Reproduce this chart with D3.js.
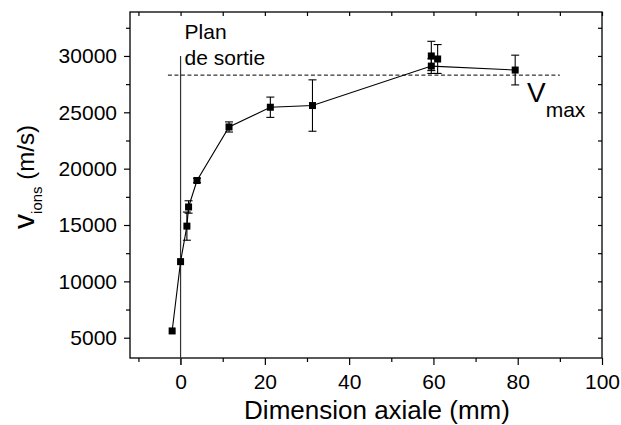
<!DOCTYPE html>
<html>
<head>
<meta charset="utf-8">
<script src="https://d3js.org/d3.v7.min.js"></script>
<style>
    body { margin: 0; background: #fff; }
    text { font-family: "Liberation Sans", Arial, sans-serif; fill: #000; }
</style>
</head>
<body>
<div id="graph"></div>
<script>
const WIDTH = 621, HEIGHT = 425;
const margin = {top: 12, right: 19, bottom: 67, left: 130};

// Measured points (axial position in mm, ion velocity in m/s, error bar half-width)
let pos_mm = [-2.0, 0, 1.5, 1.9, 3.9, 11.5, 21.3, 31.3, 59.5, 59.5, 61.0, 79.4];
let v_ions = [5600, 11750, 14900, 16600, 18950, 23700, 25450, 25600, 30000, 29100, 29730, 28750];
let v_err = [0, 0, 1250, 550, 200, 450, 900, 2280, 1300, 650, 1280, 1320];
// which points the connecting line goes through
let on_line = [1, 1, 1, 1, 1, 1, 1, 1, 0, 1, 0, 1];

let x_ticks = [0, 20, 40, 60, 80, 100];
let x_minor = [-10, 10, 30, 50, 70, 90];
let y_ticks = [5000, 10000, 15000, 20000, 25000, 30000];
let y_minor = [7500, 12500, 17500, 22500, 27500, 32500];

let v_max = 28300;
let v_max_span = [-3, 90];
let exit_plane = 0;
let exit_plane_top = 30000;

let plot_w = WIDTH - margin.left - margin.right;
let plot_h = HEIGHT - margin.top - margin.bottom;

let svg = d3.select("#graph")
    .append("svg")
    .attr("width", WIDTH)
    .attr("height", HEIGHT)
    .append("g")
    .attr("transform", `translate(${margin.left}, ${margin.top})`);

let x = d3.scaleLinear().domain([-12, 100]).range([0, plot_w]);
let y = d3.scaleLinear().domain([3200, 33900]).range([plot_h, 0]);

function styleAxis(g) {
    g.select(".domain").remove();
    g.selectAll("line").attr("stroke", "#000").attr("stroke-width", 1.2);
    g.selectAll("text").style("font-size", "21px").attr("fill", "#000");
}

// bottom axis: labelled majors, short minors
svg.append("g")
    .attr("transform", `translate(0, ${plot_h})`)
    .call(d3.axisBottom(x).tickValues(x_ticks).tickSize(7).tickPadding(9))
    .call(styleAxis);
svg.append("g")
    .attr("transform", `translate(0, ${plot_h})`)
    .call(d3.axisBottom(x).tickValues(x_minor).tickSize(4).tickFormat(""))
    .call(styleAxis);

// left axis
svg.append("g")
    .call(d3.axisLeft(y).tickValues(y_ticks).tickSize(6).tickPadding(7).tickFormat(d3.format("d")))
    .call(styleAxis);
svg.append("g")
    .call(d3.axisLeft(y).tickValues(y_minor).tickSize(4).tickFormat(""))
    .call(styleAxis);

// top and right mirror axes, ticks pointing inward
svg.append("g")
    .call(d3.axisTop(x).tickValues(x_minor.concat(x_ticks)).tickSize(-4).tickFormat(""))
    .call(styleAxis);
svg.append("g")
    .attr("transform", `translate(${plot_w}, 0)`)
    .call(d3.axisRight(y).tickValues(y_minor.concat(y_ticks)).tickSize(-4).tickFormat(""))
    .call(styleAxis);

// frame
svg.append("rect")
    .attr("x", 0).attr("y", 0)
    .attr("width", plot_w).attr("height", plot_h)
    .attr("fill", "none")
    .attr("stroke", "#000")
    .attr("stroke-width", 1.3);

// exit plane marker
svg.append("line")
    .attr("x1", x(exit_plane)).attr("x2", x(exit_plane))
    .attr("y1", y(exit_plane_top)).attr("y2", plot_h + 7)
    .attr("stroke", "#333")
    .attr("stroke-width", 1.2);

svg.append("text")
    .attr("x", x(exit_plane) + 4)
    .attr("y", 39 - margin.top)
    .style("font-size", "21px")
    .text("Plan");
svg.append("text")
    .attr("x", x(exit_plane) + 4)
    .attr("y", 65 - margin.top)
    .style("font-size", "21px")
    .text("de sortie");

// vmax dashed line
svg.append("line")
    .attr("x1", x(v_max_span[0])).attr("x2", x(v_max_span[1]))
    .attr("y1", y(v_max)).attr("y2", y(v_max))
    .attr("stroke", "#000")
    .attr("stroke-width", 1)
    .attr("stroke-dasharray", "4,2.5");

let vmax_label = svg.append("text")
    .attr("x", 527 - margin.left)
    .attr("y", 102 - margin.top);
vmax_label.append("tspan").style("font-size", "28px").text("V");
vmax_label.append("tspan").style("font-size", "21px").attr("dy", 15).attr("dx", 0).text("max");

let data = pos_mm.map(function(d, i) {
    return {x: d, v: v_ions[i], err: v_err[i], line: on_line[i]};
});

// connecting line
let line = d3.line()
    .x(function(d) { return x(d.x); })
    .y(function(d) { return y(d.v); });
svg.append("path")
    .datum(data.filter(function(d) { return d.line; }))
    .attr("d", line)
    .attr("fill", "none")
    .attr("stroke", "#000")
    .attr("stroke-width", 1.1);

// error bars
let bars = svg.selectAll(".err")
    .data(data.filter(function(d) { return d.err > 0; }))
    .enter()
    .append("g")
    .attr("class", "err")
    .attr("stroke", "#000")
    .attr("stroke-width", 1.1);
bars.append("line")
    .attr("x1", function(d) { return x(d.x); })
    .attr("x2", function(d) { return x(d.x); })
    .attr("y1", function(d) { return y(d.v - d.err); })
    .attr("y2", function(d) { return y(d.v + d.err); });
bars.append("line")
    .attr("x1", function(d) { return x(d.x) - 4; })
    .attr("x2", function(d) { return x(d.x) + 4; })
    .attr("y1", function(d) { return y(d.v + d.err); })
    .attr("y2", function(d) { return y(d.v + d.err); });
bars.append("line")
    .attr("x1", function(d) { return x(d.x) - 4; })
    .attr("x2", function(d) { return x(d.x) + 4; })
    .attr("y1", function(d) { return y(d.v - d.err); })
    .attr("y2", function(d) { return y(d.v - d.err); });

// square markers
svg.selectAll(".pt")
    .data(data)
    .enter()
    .append("rect")
    .attr("class", "pt")
    .attr("x", function(d) { return x(d.x) - 3.5; })
    .attr("y", function(d) { return y(d.v) - 3.5; })
    .attr("width", 7)
    .attr("height", 7)
    .attr("fill", "#000");

// x-axis label
svg.append("text")
    .attr("x", 377 - margin.left)
    .attr("y", 419 - margin.top)
    .style("text-anchor", "middle")
    .style("font-size", "26px")
    .text("Dimension axiale (mm)");

// y-axis label
let y_label = svg.append("text")
    .attr("transform", `translate(${34 - margin.left}, ${177 - margin.top}) rotate(-90)`)
    .style("text-anchor", "middle");
y_label.append("tspan").style("font-size", "30px").text("v");
y_label.append("tspan").style("font-size", "15px").attr("dy", 8).text("ions");
y_label.append("tspan").style("font-size", "24px").attr("dy", -8).text(" (m/s)");
</script>
</body>
</html>
